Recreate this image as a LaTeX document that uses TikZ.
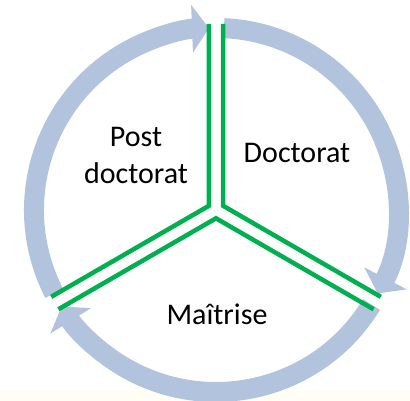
\documentclass[tikz,border=0pt]{standalone}
\usepackage{fontspec}
\setmainfont{Carlito}
\usepackage{xcolor}
\usetikzlibrary{positioning,arrows.meta,calc}
\definecolor{ringblue}{RGB}{178,195,222}
\definecolor{armgreen}{RGB}{0,176,80}
\definecolor{bottomtint}{RGB}{255,253,244}

\begin{document}
\begin{tikzpicture}[
  x=1pt, y=1pt,
  ring/.style={draw=ringblue, line width=20pt, -{Triangle[length=17pt,width=47pt]}},
  arm/.style={draw=armgreen, line width=4.5pt},
  stagetext/.style={align=center, inner sep=0pt, font=\fontsize{30}{37}\selectfont}
]
\useasboundingbox (0,0) rectangle (410,401);
\fill[bottomtint] (0,0) rectangle (410,10);
\coordinate (c) at (216,191);

\draw[ring] ($(c)+(207.3:182)$) arc[start angle=207.3, end angle=92.2, radius=182];
\draw[ring] ($(c)+(87.5:182)$) arc[start angle=87.5, end angle=-27.3, radius=182];
\draw[ring] ($(c)+(-31.3:182)$) arc[start angle=-31.3, end angle=-148, radius=182];

\coordinate (k1) at ($(c)+(30:8.3)$);
\coordinate (k2) at ($(c)+(150:8.3)$);
\coordinate (k3) at ($(c)+(270:8.3)$);
\draw[arm] ($(k1)+(90:182)$) -- (k1) -- ($(k1)+(-30:182)$);
\draw[arm] ($(k2)+(90:182)$) -- (k2) -- ($(k2)+(210:182)$);
\draw[arm] ($(k3)+(-30:182)$) -- (k3) -- ($(k3)+(210:182)$);

\node[stagetext] (postdoc) at (136,246) {Post\\doctorat};
\node[stagetext, anchor=base] (doc) at (297,238) {Doctorat};
\node[stagetext, anchor=base] (master) at (217,76) {Maîtrise};
\end{tikzpicture}
\end{document}
